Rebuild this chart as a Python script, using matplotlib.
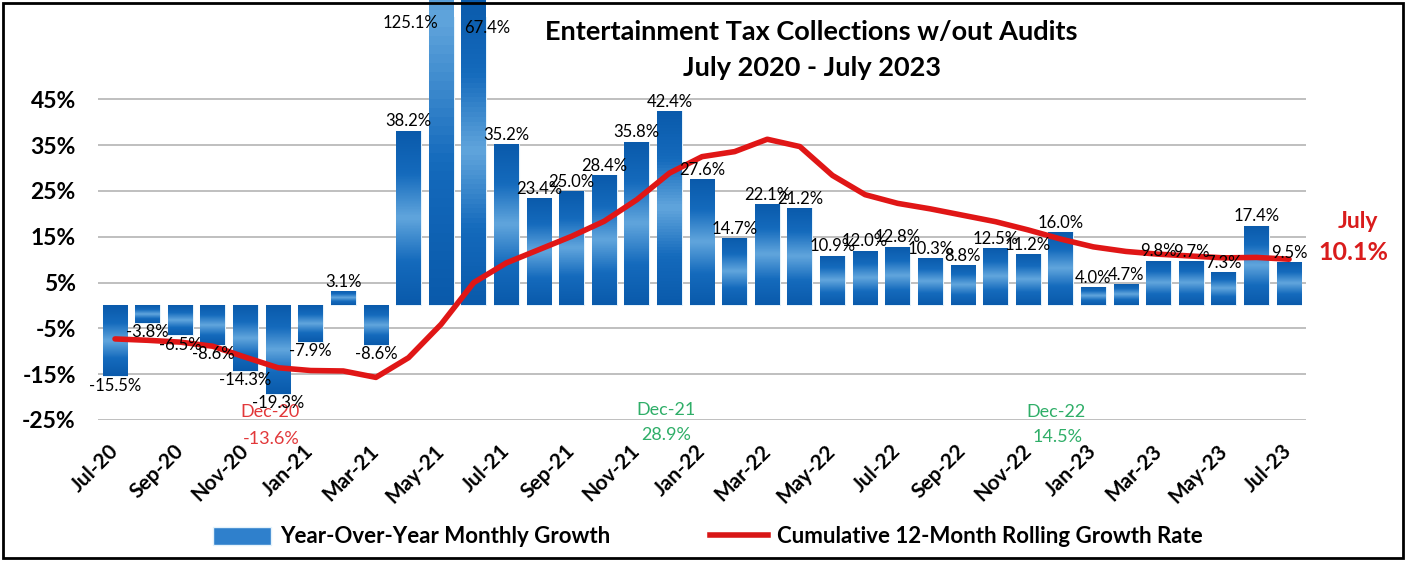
import matplotlib
matplotlib.use('Agg')
import matplotlib.pyplot as plt
import numpy as np
from matplotlib.colors import LinearSegmentedColormap
from matplotlib.patches import Rectangle, Patch
from matplotlib.lines import Line2D

plt.rcParams['font.family'] = ['Lato', 'DejaVu Sans']

months = ['Jul-20', 'Aug-20', 'Sep-20', 'Oct-20', 'Nov-20', 'Dec-20',
          'Jan-21', 'Feb-21', 'Mar-21', 'Apr-21', 'May-21', 'Jun-21',
          'Jul-21', 'Aug-21', 'Sep-21', 'Oct-21', 'Nov-21', 'Dec-21',
          'Jan-22', 'Feb-22', 'Mar-22', 'Apr-22', 'May-22', 'Jun-22',
          'Jul-22', 'Aug-22', 'Sep-22', 'Oct-22', 'Nov-22', 'Dec-22',
          'Jan-23', 'Feb-23', 'Mar-23', 'Apr-23', 'May-23', 'Jun-23',
          'Jul-23']

# year-over-year monthly growth (%)
yoy = [-15.5, -3.8, -6.5, -8.6, -14.3, -19.3,
       -7.9, 3.1, -8.6, 38.2, 125.1, 67.4,
       35.2, 23.4, 25.0, 28.4, 35.8, 42.4,
       27.6, 14.7, 22.1, 21.2, 10.9, 12.0,
       12.8, 10.3, 8.8, 12.5, 11.2, 16.0,
       4.0, 4.7, 9.8, 9.7, 7.3, 17.4,
       9.5]

# cumulative 12-month rolling growth (%)
rolling = [-7.3, -7.6, -8.0, -8.9, -11.3, -13.6,
           -14.2, -14.3, -15.7, -11.4, -4.1, 5.0,
           9.3, 12.2, 15.1, 18.4, 23.1, 28.9,
           32.5, 33.6, 36.3, 34.7, 28.4, 24.2,
           22.3, 21.1, 19.7, 18.3, 16.5, 14.5,
           12.8, 11.8, 11.2, 10.8, 10.4, 10.5,
           10.1]

y_ticks = [-25, -15, -5, 5, 15, 25, 35, 45]

fig = plt.figure(figsize=(14.09, 5.62), dpi=100)
ax = fig.add_axes([0.0696, 0.2527, 0.8573, 0.7171])

x = np.arange(len(months))
bars = ax.bar(x, yoy, width=0.76, color='#1f74c4', edgecolor='#e4f2fb',
              linewidth=0.8, zorder=2)

# gradient fill on the bars, dark ends and light middle
cmap = LinearSegmentedColormap.from_list('bar', ['#0a5aab', '#156bbd', '#62a6dd', '#156bbd', '#0a5aab'])
grad = np.linspace(0, 1, 64).reshape(-1, 1)
for b in bars:
    bx, by = b.get_x(), b.get_y()
    bw, bh = b.get_width(), b.get_height()
    im = ax.imshow(grad, cmap=cmap, aspect='auto', extent=[bx, bx + bw, by, by + bh],
                   origin='lower', zorder=2.1)
    im.set_clip_path(b)

ax.plot(x, rolling, color='#e01616', lw=4, solid_capstyle='round', zorder=4)

ax.set_xlim(-0.52, 36.52)
ax.set_ylim(-25, 63)
ax.set_yticks(y_ticks)
ax.set_yticklabels([f'{v}%' for v in y_ticks], fontsize=16.5, fontweight='bold')
ax.set_xticks(x[::2])
ax.set_xticklabels(months[::2], rotation=45, ha='right', va='center',
                   rotation_mode='anchor', fontsize=15, fontweight='bold')
ax.tick_params(axis='both', length=0)
ax.tick_params(axis='y', pad=16)
ax.tick_params(axis='x', pad=20)
ax.grid(axis='y', color='#b4b4b4', lw=1.2, zorder=0)
ax.set_axisbelow(True)
for s in ax.spines.values():
    s.set_visible(False)

# bar labels
top = ax.get_ylim()[1]
for i, v in enumerate(yoy):
    if v > top:
        continue
    if v >= 0:
        ax.annotate(f'{v:.1f}%', (i, v), xytext=(0, 1), textcoords='offset points',
                    ha='center', va='bottom', fontsize=12, zorder=5)
    else:
        ax.annotate(f'{v:.1f}%', (i, v), xytext=(0, -1), textcoords='offset points',
                    ha='center', va='top', fontsize=12, zorder=5)
# the two bars that run off the top
ax.text(9.05, 61.6, f'{yoy[10]:.1f}%', ha='center', va='center', fontsize=12, zorder=5)
ax.text(11.4, 60.5, f'{yoy[11]:.1f}%', ha='center', va='center', fontsize=12, zorder=5)

# december callouts
ax.text(4.75, -23.3, 'Dec-20', color='#e2383a', ha='center', va='center', fontsize=13, clip_on=False)
ax.text(4.8, -29.2, f'{rolling[5]:.1f}%', color='#e2383a', ha='center', va='center', fontsize=13, clip_on=False)
ax.text(16.9, -22.8, 'Dec-21', color='#2fae68', ha='center', va='center', fontsize=13, clip_on=False)
ax.text(16.9, -28.3, f'{rolling[17]:.1f}%', color='#2fae68', ha='center', va='center', fontsize=13, clip_on=False)
ax.text(28.85, -23.3, 'Dec-22', color='#2fae68', ha='center', va='center', fontsize=13, clip_on=False)
ax.text(28.9, -28.7, f'{rolling[29]:.1f}%', color='#2fae68', ha='center', va='center', fontsize=13, clip_on=False)

# latest value
ax.text(38.1, 18.3, 'July', color='#d91c1c', ha='center', va='center', fontsize=16.5,
        fontweight='bold', clip_on=False)
ax.text(37.97, 11.6, f'{rolling[-1]:.1f}%', color='#d91c1c', ha='center', va='center',
        fontsize=18, fontweight='bold', clip_on=False)

fig.text(0.576, 0.943, 'Entertainment Tax Collections w/out Audits', ha='center', va='center',
         fontsize=19.5, fontweight='bold')
fig.text(0.576, 0.879, 'July 2020 - July 2023', ha='center', va='center',
         fontsize=19.5, fontweight='bold')

handles = [Patch(facecolor='#2f80cc', edgecolor='#e4f2fb'),
           Line2D([0], [0], color='#d81616', lw=4)]
fig.legend(handles, ['Year-Over-Year Monthly Growth', 'Cumulative 12-Month Rolling Growth Rate'],
           loc='center', bbox_to_anchor=(0.5025, 0.0445), ncol=2, frameon=False,
           prop={'size': 16, 'weight': 'bold'}, handlelength=2.6, handleheight=0.9,
           columnspacing=4.5, handletextpad=0.4)

fig.patches.append(Rectangle((3 / 1409, 4 / 562), 1400 / 1409, 555 / 562, transform=fig.transFigure,
                             fill=False, edgecolor='black', lw=2))

fig.savefig('out.png', dpi=100)
